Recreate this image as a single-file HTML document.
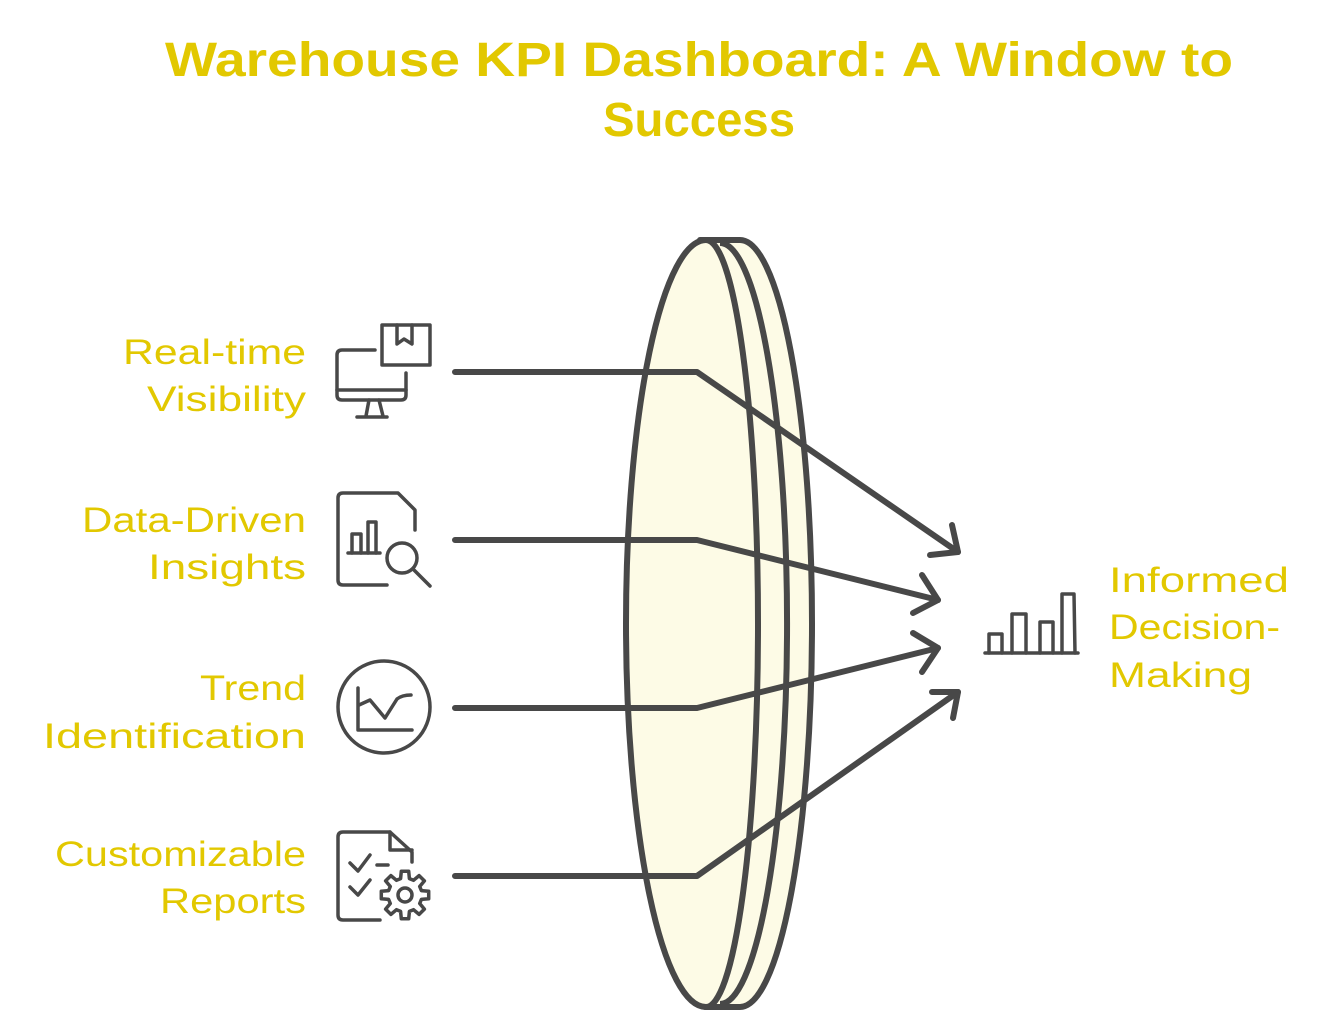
<!DOCTYPE html>
<html>
<head>
<meta charset="utf-8">
<style>
  html,body{margin:0;padding:0;background:#ffffff;}
  svg{display:block;}
  .t{font-family:"Liberation Sans",sans-serif;fill:#e2c800;}
  .lbl{font-size:35px;}
  .ttl{font-size:48px;font-weight:bold;}
  .ic{fill:none;stroke:#484848;stroke-width:3.5;stroke-linecap:round;stroke-linejoin:round;}
  .ar{fill:none;stroke:#484848;stroke-width:6;stroke-linecap:round;stroke-linejoin:round;}
</style>
</head>
<body>
<svg width="1344" height="1036" viewBox="0 0 1344 1036" xmlns="http://www.w3.org/2000/svg">
  <!-- Title -->
  <text class="t ttl" x="165" y="76" textLength="1068" lengthAdjust="spacingAndGlyphs">Warehouse KPI Dashboard: A Window to</text>
  <text class="t ttl" x="603" y="136" textLength="192" lengthAdjust="spacingAndGlyphs">Success</text>

  <!-- Lens -->
  <path d="M700,240 L740,240 A72,383.5 0 0 1 740,1007 L705,1007 Z" fill="#fdfbe6" stroke="#484848" stroke-width="6" stroke-linejoin="round"/>
  <path d="M720,243 A67,380 0 0 1 720,1004" fill="none" stroke="#484848" stroke-width="6"/>
  <path d="M706,240 A52,383.5 0 0 1 706,1007 A80,383.5 0 0 1 706,240 Z" fill="#fdfbe6" stroke="#484848" stroke-width="6" stroke-linejoin="round"/>

  <!-- Arrows -->
  <polyline class="ar" points="455,372 697,372 958,552"/>
  <polyline class="ar" points="952,525 958,552 930,555"/>
  <polyline class="ar" points="455,540 697,540 938,600"/>
  <polyline class="ar" points="922,575 938,600 913,613"/>
  <polyline class="ar" points="455,708 697,708 938,648"/>
  <polyline class="ar" points="913,633 938,648 922,672"/>
  <polyline class="ar" points="455,876 697,876 958,692"/>
  <polyline class="ar" points="932,692 958,692 953,718"/>

  <!-- Icon 1: monitor + box -->
  <path class="ic" d="M375,350 L342,350 Q337,350 337,355 L337,395 Q337,400 342,400 L401,400 Q406,400 406,395 L406,373"/>
  <line class="ic" x1="337" y1="390" x2="406" y2="390"/>
  <path class="ic" d="M369,400 L366,416 M379,400 L383,416"/>
  <line class="ic" x1="357" y1="417" x2="387" y2="417"/>
  <rect class="ic" x="382" y="325" width="48" height="40"/>
  <path class="ic" d="M397,325 L397,344 L404,339 L412,344 L412,325"/>

  <!-- Icon 2: document with chart + magnifier -->
  <path class="ic" d="M387,585 L343,585 Q338,585 338,580 L338,498 Q338,493 343,493 L398,493 L415,510 L415,530"/>
  <line class="ic" x1="348" y1="553" x2="380" y2="553"/>
  <path class="ic" d="M352,553 L352,534 L361,534 L361,553"/>
  <path class="ic" d="M368,553 L368,522 L376,522 L376,553"/>
  <circle class="ic" cx="402" cy="558" r="15"/>
  <line class="ic" x1="413" y1="569" x2="430" y2="586"/>

  <!-- Icon 3: circle with trend chart -->
  <circle class="ic" cx="384" cy="707" r="46"/>
  <path class="ic" d="M358,688 L358,730 L412,730"/>
  <path class="ic" d="M359,705 L370,700 L385,718 L397,699 Q402,695 411,695"/>

  <!-- Icon 4: report with checks + gear -->
  <path class="ic" d="M380,920 L343,920 Q338,920 338,915 L338,837 Q338,832 343,832 L390,832 L412,852 L412,862"/>
  <path class="ic" d="M390,832 L390,850 L412,850"/>
  <path class="ic" d="M350,863 L358,871 L370,855"/>
  <line class="ic" x1="377" y1="865" x2="388" y2="865"/>
  <path class="ic" d="M350,887 L358,895 L370,880"/>
  <g transform="translate(405,895)">
    <polygon class="ic" points="16.4,-4.4 23.7,-3.7 23.7,3.7 16.4,4.4 14.7,8.5 19.4,14.1 14.1,19.4 8.5,14.7 4.4,16.4 3.7,23.7 -3.7,23.7 -4.4,16.4 -8.5,14.7 -14.1,19.4 -19.4,14.1 -14.7,8.5 -16.4,4.4 -23.7,3.7 -23.7,-3.7 -16.4,-4.4 -14.7,-8.5 -19.4,-14.1 -14.1,-19.4 -8.5,-14.7 -4.4,-16.4 -3.7,-23.7 3.7,-23.7 4.4,-16.4 8.5,-14.7 14.1,-19.4 19.4,-14.1 14.7,-8.5"/>
    <circle class="ic" cx="0" cy="0" r="7"/>
  </g>

  <!-- Right icon: bar chart -->
  <line class="ic" x1="985" y1="653" x2="1078" y2="653"/>
  <path class="ic" d="M989,653 L989,634 L1002,634 L1002,653"/>
  <path class="ic" d="M1012,653 L1012,614 L1026,614 L1026,653"/>
  <path class="ic" d="M1040,653 L1040,622 L1053,622 L1053,653"/>
  <path class="ic" d="M1062,653 L1062,594 L1074,594 L1075,653"/>

  <!-- Left labels -->
  <text class="t lbl" x="123" y="364" textLength="183" lengthAdjust="spacingAndGlyphs">Real-time</text>
  <text class="t lbl" x="147" y="411" textLength="159" lengthAdjust="spacingAndGlyphs">Visibility</text>
  <text class="t lbl" x="82" y="532" textLength="224" lengthAdjust="spacingAndGlyphs">Data-Driven</text>
  <text class="t lbl" x="148" y="579" textLength="158" lengthAdjust="spacingAndGlyphs">Insights</text>
  <text class="t lbl" x="200" y="700" textLength="106" lengthAdjust="spacingAndGlyphs">Trend</text>
  <text class="t lbl" x="43" y="748" textLength="263" lengthAdjust="spacingAndGlyphs">Identification</text>
  <text class="t lbl" x="55" y="866" textLength="251" lengthAdjust="spacingAndGlyphs">Customizable</text>
  <text class="t lbl" x="160" y="913" textLength="146" lengthAdjust="spacingAndGlyphs">Reports</text>

  <!-- Right labels -->
  <text class="t lbl" x="1109" y="592" textLength="180" lengthAdjust="spacingAndGlyphs">Informed</text>
  <text class="t lbl" x="1109" y="639" textLength="171" lengthAdjust="spacingAndGlyphs">Decision-</text>
  <text class="t lbl" x="1109" y="687" textLength="143" lengthAdjust="spacingAndGlyphs">Making</text>
</svg>
</body>
</html>
